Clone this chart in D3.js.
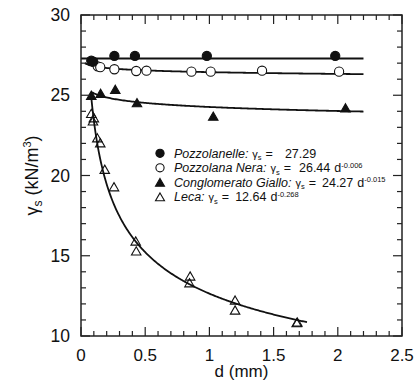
<!DOCTYPE html>
<html>
<head>
<meta charset="utf-8">
<script src="https://cdn.jsdelivr.net/npm/d3@7"></script>
<style>
  html, body { margin: 0; padding: 0; background: #fff; }
  svg { display: block; }
  text { font-family: "Liberation Sans", Arial, Helvetica, sans-serif; fill: #111; }
</style>
</head>
<body>
<svg id="chart" width="417" height="387"></svg>
<script>
// ---- data ----
const xTicks = [0, 0.5, 1, 1.5, 2, 2.5];
const xTickLabels = ["0", "0.5", "1", "1.5", "2", "2.5"];
const yTicks = [10, 15, 20, 25, 30];
const yTickLabels = ["10", "15", "20", "25", "30"];

const pozzolanelleD = [0.08, 0.095, 0.26, 0.42, 0.98, 1.98];
const pozzolanelleG = [27.15, 27.1, 27.45, 27.45, 27.45, 27.45];

const neraD = [0.13, 0.15, 0.26, 0.43, 0.51, 0.86, 1.01, 1.41, 2.01];
const neraG = [26.8, 26.75, 26.62, 26.51, 26.53, 26.47, 26.47, 26.53, 26.47];

const gialloD = [0.08, 0.153, 0.267, 0.436, 1.03, 2.06];
const gialloG = [25.0, 25.12, 25.37, 24.54, 23.7, 24.22];

const lecaD = [0.08, 0.10, 0.093, 0.127, 0.15, 0.185, 0.257, 0.426, 0.43, 0.85, 0.845, 1.2, 1.2, 1.68, 1.685];
const lecaG = [23.87, 23.6, 23.4, 22.35, 22.04, 20.39, 19.3, 15.92, 15.3, 13.74, 13.32, 12.24, 11.62, 10.83, 10.87];

// fit coefficients (from the legend): gamma = a * d^b, drawn over [from, to]
const fitNames = ["Pozzolanelle", "Pozzolana Nera", "Conglomerato Giallo", "Leca"];
const fitA = [27.29, 26.44, 24.27, 12.64];
const fitB = [0, -0.006, -0.015, -0.268];
const fitFrom = [0.0, 0.03, 0.08, 0.08];
const fitTo = [2.2, 2.2, 2.2, 1.76];
const fitLabels = ["27.29", "26.44", "24.27", "12.64"];
const fitExps = ["", "-0.006", "-0.015", "-0.268"];

// ---- layout ----
const svg = d3.select("#chart");
const m = { left: 81, right: 402, top: 15, bottom: 336 };
const x = d3.scaleLinear().domain([0, 2.5]).range([m.left, m.right]);
const y = d3.scaleLinear().domain([10, 30]).range([m.bottom, m.top]);

const minorX = d3.range(0, 2.5001, 0.1).map(v => +v.toFixed(2));
const minorY = d3.range(10, 30.001, 1);
const majorLen = 9, minorLen = 5;

const g = svg.append("g");

// fit curves
fitA.forEach((a, i) => {
  const b = fitB[i];
  const pts = d3.range(0, 201).map(k => {
    const d = fitFrom[i] + (fitTo[i] - fitFrom[i]) * k / 200;
    return [d, b === 0 ? a : a * Math.pow(Math.max(d, 1e-6), b)];
  });
  g.append("path")
    .datum(pts)
    .attr("fill", "none")
    .attr("stroke", "#111")
    .attr("stroke-width", 1.8)
    .attr("d", d3.line().x(p => x(p[0])).y(p => y(p[1])));
});

// marker shapes
function triPath(cx, cy, side) {
  const h = side * Math.sqrt(3) / 2;
  return `M${cx},${cy - h / 2}L${cx + side / 2},${cy + h / 2}L${cx - side / 2},${cy + h / 2}Z`;
}
function drawCircles(ds, gs, filled) {
  g.selectAll(null).data(ds.map((d, i) => [d, gs[i]])).enter().append("circle")
    .attr("cx", p => x(p[0])).attr("cy", p => y(p[1])).attr("r", 4.6)
    .attr("fill", filled ? "#111" : "#fff")
    .attr("stroke", "#111").attr("stroke-width", 1.1);
}
function drawTris(ds, gs, filled) {
  g.selectAll(null).data(ds.map((d, i) => [d, gs[i]])).enter().append("path")
    .attr("d", p => triPath(x(p[0]), y(p[1]), 9.5))
    .attr("fill", filled ? "#111" : "none")
    .attr("stroke", "#111").attr("stroke-width", 1.1);
}
drawTris(lecaD, lecaG, false);
drawTris(gialloD, gialloG, true);
drawCircles(neraD, neraG, false);
drawCircles(pozzolanelleD, pozzolanelleG, true);

// frame
svg.append("rect")
  .attr("x", m.left).attr("y", m.top)
  .attr("width", m.right - m.left).attr("height", m.bottom - m.top)
  .attr("fill", "none").attr("stroke", "#222").attr("stroke-width", 1.5);

// ticks (inward, on all four sides)
const isMajorX = v => xTicks.some(t => Math.abs(t - v) < 1e-6);
const isMajorY = v => yTicks.some(t => Math.abs(t - v) < 1e-6);
const tk = svg.append("g").attr("stroke", "#222").attr("stroke-width", 1.2);
minorX.forEach(v => {
  const L = isMajorX(v) ? majorLen : minorLen;
  tk.append("line").attr("x1", x(v)).attr("x2", x(v)).attr("y1", m.bottom).attr("y2", m.bottom - L);
  tk.append("line").attr("x1", x(v)).attr("x2", x(v)).attr("y1", m.top).attr("y2", m.top + L);
});
minorY.forEach(v => {
  const L = isMajorY(v) ? majorLen : minorLen;
  tk.append("line").attr("y1", y(v)).attr("y2", y(v)).attr("x1", m.left).attr("x2", m.left + L);
  tk.append("line").attr("y1", y(v)).attr("y2", y(v)).attr("x1", m.right).attr("x2", m.right - L);
});

// tick labels
svg.append("g").selectAll("text").data(xTicks).enter().append("text")
  .attr("x", d => x(d)).attr("y", 361)
  .attr("text-anchor", "middle").attr("font-size", 17)
  .text((d, i) => xTickLabels[i]);
svg.append("g").selectAll("text").data(yTicks).enter().append("text")
  .attr("x", 70).attr("y", d => y(d) + 6)
  .attr("text-anchor", "end").attr("font-size", 17.5)
  .text((d, i) => yTickLabels[i]);

// axis titles
svg.append("text").attr("x", (m.left + m.right) / 2).attr("y", 377)
  .attr("text-anchor", "middle").attr("font-size", 17).text("d (mm)");
const yt = svg.append("text")
  .attr("transform", `translate(38,${(m.top + m.bottom) / 2}) rotate(-90)`)
  .attr("text-anchor", "middle").attr("font-size", 18);
yt.append("tspan").text("γ");
yt.append("tspan").attr("font-size", 12).attr("dy", 4).text("s");
yt.append("tspan").attr("dy", -4).text(" (kN/m");
yt.append("tspan").attr("font-size", 11).attr("dy", -7).text("3");
yt.append("tspan").attr("dy", 7).text(")");

// legend
const legMarkX = 160, legTextX = 174, legY0 = 153.3, legDy = 14.5;
const numGap = [8, 4, 2, 2];
fitNames.forEach((name, i) => {
  const cy = legY0 + i * legDy;
  if (i === 0 || i === 1) {
    svg.append("circle").attr("cx", legMarkX).attr("cy", cy).attr("r", 4.1)
      .attr("fill", i === 0 ? "#111" : "#fff").attr("stroke", "#111").attr("stroke-width", 1.1);
  } else {
    svg.append("path").attr("d", triPath(legMarkX, cy, 9))
      .attr("fill", i === 2 ? "#111" : "none").attr("stroke", "#111").attr("stroke-width", 1.1);
  }
  const t = svg.append("text").attr("x", legTextX).attr("y", cy + 4.5).attr("font-size", 12.5);
  t.append("tspan").attr("font-style", "italic").text(name + ":");
  t.append("tspan").attr("font-size", 11).attr("dx", 4).text("γ");
  t.append("tspan").attr("font-size", 7.5).attr("dy", 2.5).text("s");
  t.append("tspan").attr("dy", -2.5).attr("dx", 4).text("=");
  t.append("tspan").attr("dx", 4 + numGap[i]).text(fitLabels[i]);
  if (fitExps[i]) {
    t.append("tspan").attr("dx", 4).text("d");
    t.append("tspan").attr("font-size", 7.5).attr("dy", -4.5).text(fitExps[i]);
  }
});
</script>
</body>
</html>
